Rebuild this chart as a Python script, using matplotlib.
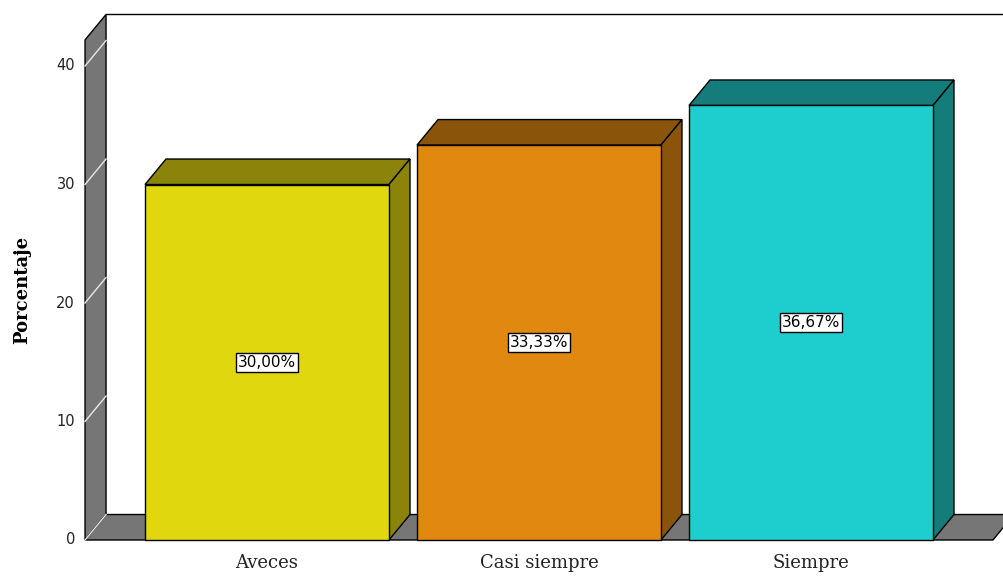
import matplotlib.pyplot as plt
from matplotlib.patches import Polygon

categorias = ["Aveces", "Casi siempre", "Siempre"]
porcentajes = [30.00, 33.33, 36.67]
etiquetas = ["30,00%", "33,33%", "36,67%"]
ticks_y = [0, 10, 20, 30, 40]

frente = ["#E1D70F", "#E0880F", "#1ECECE"]
oscuro = ["#8C840A", "#8A550A", "#147C7A"]

# depth offset of the 3d effect in data units
dx = 0.0772
dy = 2.15
ancho = 0.897
x_izq = -0.669
x_der = 2.669
y_top = 42.2

fig = plt.figure(figsize=(10.04, 5.76), dpi=100)
ax = fig.add_axes([0, 0, 1, 1])
ax.set_xlim(-267 / 272, (1004 - 267) / 272)
ax.set_ylim((540 - 576) / 11.85, 540 / 11.85)
ax.axis("off")


def poly(pts, color, z, lw=1.0):
    ax.add_patch(Polygon(pts, closed=True, facecolor=color, edgecolor="black",
                         linewidth=lw, zorder=z, joinstyle="miter"))


# left wall
poly([(x_izq, 0), (x_izq + dx, dy), (x_izq + dx, y_top + dy), (x_izq, y_top)], "#767676", 1)
# floor
poly([(x_izq, 0), (x_der, 0), (x_der + dx, dy), (x_izq + dx, dy)], "#767676", 1)
# back wall top border
ax.plot([x_izq + dx, 3.0], [y_top + dy, y_top + dy], color="black", lw=1.0, zorder=1)

# tick lines on the wall and tick labels
for t in ticks_y:
    ax.plot([x_izq, x_izq + dx], [t, t + dy], color="#e8e8e8", lw=1, zorder=2)
    ax.text(x_izq - 0.037, t, str(t), ha="right", va="center", fontsize=10.5,
            family="DejaVu Sans", color="#222222")

# bars
for i, v in enumerate(porcentajes):
    x0 = i - ancho / 2
    x1 = i + ancho / 2
    z = 3 + i
    poly([(x0, v), (x0 + dx, v + dy), (x1 + dx, v + dy), (x1, v)], oscuro[i], z)
    poly([(x1, 0), (x1 + dx, dy), (x1 + dx, v + dy), (x1, v)], oscuro[i], z)
    poly([(x0, 0), (x1, 0), (x1, v), (x0, v)], frente[i], z)
    ax.text(i, v / 2, etiquetas[i], ha="center", va="center", fontsize=11,
            family="DejaVu Sans", color="black", zorder=10,
            bbox=dict(boxstyle="square,pad=0.12", facecolor="white",
                      edgecolor="black", linewidth=1))
    ax.text(i, -1.95, categorias[i], ha="center", va="center", fontsize=13,
            family="DejaVu Serif", color="#222222")

ax.text(-0.9, 21.1, "Porcentaje", rotation=90, ha="center", va="center",
        fontsize=13, fontweight="bold", family="DejaVu Serif", color="black")

fig.savefig("out.png", dpi=100)
